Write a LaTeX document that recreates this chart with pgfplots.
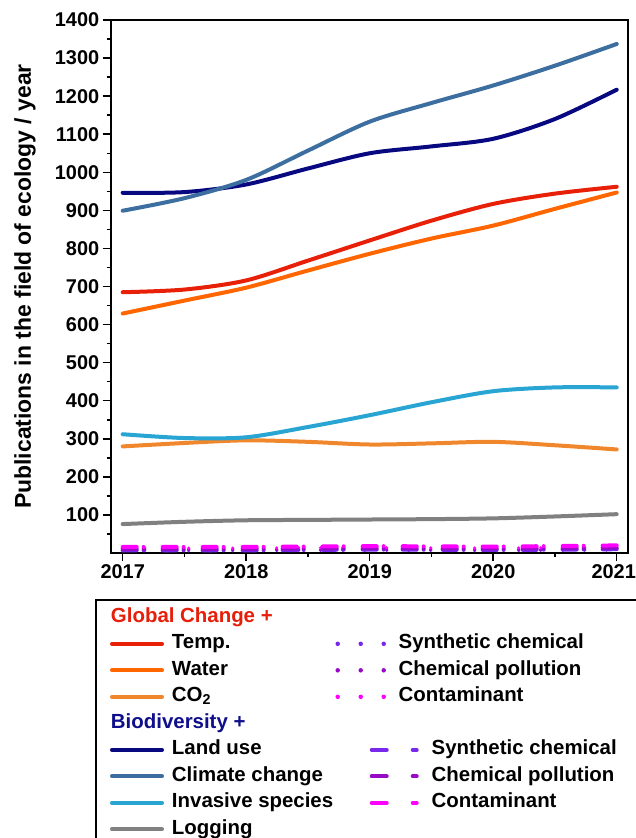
\documentclass[border=0pt]{standalone}
\usepackage{pgfplots}
\pgfplotsset{compat=1.18}
\usepackage{fontspec}
\setmainfont{Liberation Sans}

\definecolor{ctemp}{RGB}{232,32,8}
\definecolor{cwater}{RGB}{255,102,0}
\definecolor{cco}{RGB}{240,135,45}
\definecolor{cland}{RGB}{8,8,128}
\definecolor{cclim}{RGB}{60,110,160}
\definecolor{cinv}{RGB}{40,165,210}
\definecolor{clog}{RGB}{128,128,128}
\definecolor{csyn}{RGB}{120,40,235}
\definecolor{cchem}{RGB}{150,10,200}
\definecolor{ccont}{RGB}{255,0,255}
\definecolor{hgc}{RGB}{230,30,10}
\definecolor{hbio}{RGB}{15,15,140}

\newcommand{\tlbl}{\fontsize{20}{23}\selectfont\bfseries}
\newcommand{\lgd}{\fontsize{20.5}{23}\selectfont\bfseries}
\newcommand{\ylbl}{\fontsize{23}{26}\selectfont\bfseries}

\begin{document}
\begin{tikzpicture}[x=1bp,y=1bp]
\begin{axis}[
    at={(110.7bp,-553bp)}, anchor=south west,
    scale only axis, width=517bp, height=533bp,
    xmin=2016.903, xmax=2021.089, ymin=0, ymax=1400,
    xtick={2017,2018,2019,2020,2021},
    xticklabels={2017,2018,2019,2020,\hspace*{-6bp}2021},
    minor xtick={2017.5,2018.5,2019.5,2020.5},
    ytick={100,200,...,1400},
    minor ytick={50,150,...,1350},
    xtick pos=left, ytick pos=left, tick align=outside,
    major tick length=8bp, minor tick length=4bp,
    every tick/.style={black, line width=1.5bp},
    axis line style={line width=1.6bp},
    /pgf/number format/assume math mode=true,
    /pgf/number format/set thousands separator={},
    ticklabel style={font=\tlbl},
    ylabel={Publications in the field of ecology / year},
    ylabel style={font=\ylbl, at={(axis description cs:-0.166,0.5)}, anchor=center},
    legend columns=2,
    legend cell align=left,
    legend image code/.code={\path (0bp,0bp) (58bp,0bp); \draw[#1] (0bp,0bp) -- (50bp,0bp);},
    legend style={at={(axis description cs:-0.030,-0.0863)}, anchor=north west,
        draw=black, line width=1.6bp, inner xsep=14bp, inner ysep=8bp,
        column sep=0bp, row sep=7.5bp,
        nodes={inner sep=0pt, text height=14.5bp, text depth=4.5bp, font=\lgd}},
    every axis plot/.append style={line width=4bp, line cap=round, smooth},
]
% dotted, Global Change +
\addplot[csyn, dash pattern=on 0bp off 22bp, line width=3.5bp, forget plot] coordinates {(2017,6) (2018,6) (2019,7) (2020,6) (2021,8)};
\addplot[cchem, dash pattern=on 0bp off 22bp, line width=3.5bp, forget plot] coordinates {(2017,9) (2018,9) (2019,10) (2020,9) (2021,11)};
\addplot[ccont, dash pattern=on 0bp off 22bp, line width=3.5bp, forget plot] coordinates {(2017,13) (2018,13) (2019,14) (2020,13) (2021,15)};
% dashed, Biodiversity +
\addplot[csyn, dash pattern=on 14bp off 7bp on 0bp off 19bp, forget plot] coordinates {(2017,7) (2018,7) (2019,9) (2020,8) (2021,10)};
\addplot[cchem, dash pattern=on 14bp off 7bp on 0bp off 19bp, forget plot] coordinates {(2017,11) (2018,11) (2019,13) (2020,12) (2021,14)};
\addplot[ccont, dash pattern=on 14bp off 7bp on 0bp off 19bp, forget plot] coordinates {(2017,16) (2018,16) (2019,18) (2020,17) (2021,20)};
% solid lines
\addplot[clog, forget plot] coordinates {(2017,76) (2017.5,82) (2018,86) (2018.5,87) (2019,88) (2019.5,89) (2020,91) (2020.5,96) (2021,102)};
\addplot[cco, forget plot] coordinates {(2017,280) (2017.5,289) (2018,296) (2018.5,292) (2019,285) (2019.5,288) (2020,292) (2020.5,283) (2021,272)};
\addplot[cinv, forget plot] coordinates {(2017,312) (2017.5,302) (2018,304) (2018.5,331) (2019,362) (2019.5,396) (2020,425) (2020.5,435) (2021,435)};
\addplot[cwater, forget plot] coordinates {(2017,629) (2017.5,663) (2018,697) (2018.5,742) (2019,786) (2019.5,826) (2020,860) (2020.5,904) (2021,947)};
\addplot[ctemp, forget plot] coordinates {(2017,685) (2017.5,692) (2018,716) (2018.5,768) (2019,821) (2019.5,873) (2020,917) (2020.5,944) (2021,962)};
\addplot[cland, forget plot] coordinates {(2017,946) (2017.5,948) (2018,968) (2018.5,1010) (2019,1050) (2019.5,1068) (2020,1088) (2020.5,1140) (2021,1217)};
\addplot[cclim, forget plot] coordinates {(2017,899) (2017.5,932) (2018,980) (2018.5,1057) (2019,1133) (2019.5,1182) (2020,1228) (2020.5,1280) (2021,1337)};

% legend
\addlegendimage{empty legend}
\addlegendentry{\hspace*{-61bp}\textcolor{hgc}{Global Change +}}
\addlegendimage{empty legend}
\addlegendentry{~}
\addlegendimage{ctemp, line width=4bp, line cap=round}
\addlegendentry{Temp.}
\addlegendimage{legend image code/.code={\path (0bp,0bp) (94.5bp,0bp); \draw[csyn, line width=4.5bp, line cap=round, dash pattern=on 0bp off 23bp] (2.5bp,0bp) -- (50bp,0bp);}}
\addlegendentry{\hspace*{-33bp}Synthetic chemical}
\addlegendimage{cwater, line width=4bp, line cap=round}
\addlegendentry{Water}
\addlegendimage{legend image code/.code={\path (0bp,0bp) (94.5bp,0bp); \draw[cchem, line width=4.5bp, line cap=round, dash pattern=on 0bp off 23bp] (2.5bp,0bp) -- (50bp,0bp);}}
\addlegendentry{\hspace*{-33bp}Chemical pollution}
\addlegendimage{cco, line width=4bp, line cap=round}
\addlegendentry{CO\textsubscript{2}}
\addlegendimage{legend image code/.code={\path (0bp,0bp) (94.5bp,0bp); \draw[ccont, line width=4.5bp, line cap=round, dash pattern=on 0bp off 23bp] (2.5bp,0bp) -- (50bp,0bp);}}
\addlegendentry{\hspace*{-33bp}Contaminant}
\addlegendimage{empty legend}
\addlegendentry{\hspace*{-61bp}\textcolor{hbio}{Biodiversity +}}
\addlegendimage{empty legend}
\addlegendentry{~}
\addlegendimage{cland, line width=4bp, line cap=round}
\addlegendentry{Land use}
\addlegendimage{legend image code/.code={\path (0bp,0bp) (94.5bp,0bp); \draw[csyn, line width=4bp, line cap=round] (36.5bp,0bp) -- (51.5bp,0bp) (77.5bp,0bp) -- (81.5bp,0bp);}}
\addlegendentry{Synthetic chemical\hspace*{50bp}}
\addlegendimage{cclim, line width=4bp, line cap=round}
\addlegendentry{Climate change}
\addlegendimage{legend image code/.code={\path (0bp,0bp) (94.5bp,0bp); \draw[cchem, line width=4bp, line cap=round] (36.5bp,0bp) -- (51.5bp,0bp) (77.5bp,0bp) -- (81.5bp,0bp);}}
\addlegendentry{Chemical pollution}
\addlegendimage{cinv, line width=4bp, line cap=round}
\addlegendentry{Invasive species}
\addlegendimage{legend image code/.code={\path (0bp,0bp) (94.5bp,0bp); \draw[ccont, line width=4bp, line cap=round] (36.5bp,0bp) -- (51.5bp,0bp) (77.5bp,0bp) -- (81.5bp,0bp);}}
\addlegendentry{Contaminant}
\addlegendimage{clog, line width=4bp, line cap=round}
\addlegendentry{Logging}
\end{axis}
\pgfresetboundingbox
\path[use as bounding box] (0,0) rectangle (636,-838);
\end{tikzpicture}
\end{document}
